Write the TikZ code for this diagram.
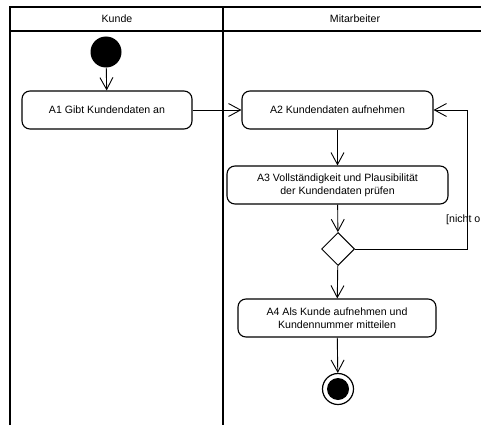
\documentclass[tikz,border=0pt]{standalone}
\usepackage{fontspec}
\setmainfont{Liberation Sans}
\usetikzlibrary{arrows.meta,shapes.geometric}
\begin{document}
\begin{tikzpicture}[x=1pt,y=-1pt,
  lane/.style={line width=2pt},
  txt/.style={font=\fontsize{10.6}{13}\selectfont},
  action/.style={draw, rounded corners=8pt, line width=1.1pt, align=center,
    txt, inner sep=2pt},
  flow/.style={line width=0.9pt, -{Straight Barb[length=12pt,width=13pt,line width=0.9pt]}},
  decision/.style={draw, diamond, aspect=1, inner sep=0pt, line width=1pt,
    minimum width=33pt, minimum height=33pt}]
\useasboundingbox (0,0) rectangle (481,425);

% swimlanes
\draw[lane] (10,425) -- (10,7) -- (495,7);
\draw[lane] (10,31) -- (495,31);
\draw[lane] (223,7) -- (223,425);
\node[txt] (kunde) at (117,19) {Kunde};
\node[txt] (mitarb) at (355,19) {Mitarbeiter};

% initial node
\node[circle, fill, inner sep=0pt, minimum size=31pt] (start) at (106,52) {};

% actions
\node[action, minimum width=170pt, minimum height=38pt] (a1) at (107,110) {A1 Gibt Kundendaten an};
\node[action, minimum width=191pt, minimum height=38pt] (a2) at (337.5,110) {A2 Kundendaten aufnehmen};
\node[action, minimum width=221pt, minimum height=38pt] (a3) at (337.5,185) {A3 Vollständigkeit und Plausibilität\\der Kundendaten prüfen};
\node[decision] (dec) at (338,249) {};
\node[action, minimum width=198pt, minimum height=38pt] (a4) at (337,318) {A4 Als Kunde aufnehmen und\\Kundennummer mitteilen};

% final node
\node[circle, draw, line width=1.2pt, inner sep=0pt, minimum size=31pt] (final) at (338,389) {};
\node[circle, fill, inner sep=0pt, minimum size=22pt] (finaldot) at (final.center) {};

% control flows
\draw[flow] (start) -- (a1);
\draw[flow] (a1) -- (a2);
\draw[flow] (a2) -- (a3);
\draw[flow] (a3) -- (dec);
\draw[flow] (dec) -- (a4);
\draw[flow] (a4) -- (final);
\coordinate (loopc) at (467,249);
\draw[flow] (dec.east) -- (loopc) |- (a2.east);
\node[anchor=west, txt, inner sep=0pt] (guard) at (446,220) {[nicht o};
\end{tikzpicture}
\end{document}
